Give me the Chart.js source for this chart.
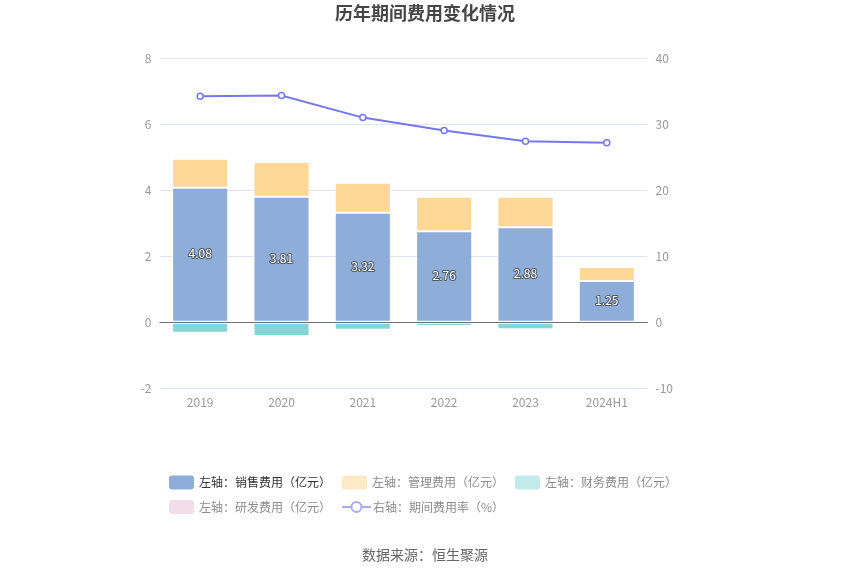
<!DOCTYPE html>
<html>
<head>
<meta charset="utf-8">
<script src="https://cdn.jsdelivr.net/npm/chart.js@4.4.1/dist/chart.umd.min.js"></script>
<style>
    html, body { margin: 0; padding: 0; background: #fff; }
    #wrap { width: 850px; height: 575px; position: relative; }
</style>
</head>
<body>
<div id="wrap"><canvas id="myChart"></canvas></div>
<script>
let nam = ['2019', '2020', '2021', '2022', '2023', '2024H1'];
let xiaoShou = [4.08, 3.81, 3.32, 2.76, 2.88, 1.25];
let guanLi = [0.88, 1.05, 0.91, 1.05, 0.93, 0.43];
let caiWu = [-0.32, -0.42, -0.23, -0.11, -0.21, 0];
let yanFa = [0, 0, 0, 0, 0, 0];
let feiYongLv = [34.3, 34.4, 31.05, 29.1, 27.45, 27.25];

let tickTrai = [-2, 0, 2, 4, 6, 8];
let tickPhai = [-10, 0, 10, 20, 30, 40];

let tenSeries = [
    '左轴：销售费用（亿元）',
    '左轴：管理费用（亿元）',
    '左轴：财务费用（亿元）',
    '左轴：研发费用（亿元）',
    '右轴：期间费用率（%）',
];

Chart.defaults.font.family = '"Microsoft YaHei", "Noto Sans CJK SC", "Noto Sans", sans-serif';
Chart.defaults.color = '#999';

// legend tu ve, hang 1 can giua, hang 2 bat dau cung vi tri
let legendPlugin = {
    id: 'legendTuVe',
    afterDraw(chart) {
        let ctx = chart.ctx;
        let ds = chart.data.datasets;
        let swW = 25, swH = 14, gap = 5, itemGap = 11;
        ctx.save();
        ctx.font = '12px ' + Chart.defaults.font.family;
        ctx.textBaseline = 'middle';
        ctx.textAlign = 'left';
        let rows = [[0, 1, 2], [3, 4]];
        let rowY = [482.5, 507];
        let w1 = 0;
        rows[0].forEach(function (i, k) {
            w1 += swW + gap + ctx.measureText(ds[i].label).width + (k > 0 ? itemGap : 0);
        });
        let x0 = (chart.width - w1) / 2 - 2;
        rows.forEach(function (row, r) {
            let x = x0;
            let y = rowY[r];
            row.forEach(function (i) {
                let d = ds[i];
                if (d.type === 'line') {
                    ctx.strokeStyle = d.legendColor;
                    ctx.lineWidth = 2;
                    ctx.beginPath();
                    ctx.moveTo(x, y);
                    ctx.lineTo(x + swW + 4, y);
                    ctx.stroke();
                    ctx.fillStyle = '#fff';
                    ctx.beginPath();
                    ctx.arc(x + (swW + 4) / 2, y, 5, 0, Math.PI * 2);
                    ctx.fill();
                    ctx.stroke();
                    x += swW + 4 + 2;
                } else {
                    ctx.fillStyle = d.legendColor;
                    ctx.beginPath();
                    ctx.roundRect(x, y - swH / 2, swW, swH, 3);
                    ctx.fill();
                    x += swW + gap;
                }
                ctx.fillStyle = d.legendText;
                ctx.fillText(d.label, x, y);
                x += ctx.measureText(d.label).width + itemGap;
            });
        });
        ctx.restore();
    },
};

// nhan gia tri o giua cot ban hang + duong 0 ve de len cot
let nhanPlugin = {
    id: 'nhanCot',
    afterDatasetsDraw(chart) {
        let ctx = chart.ctx;
        let area = chart.chartArea;
        let y0 = Math.round(chart.scales.y.getPixelForValue(0)) + 0.5;
        ctx.save();
        ctx.strokeStyle = '#6e7079';
        ctx.lineWidth = 1;
        ctx.beginPath();
        ctx.moveTo(area.left, y0);
        ctx.lineTo(area.right, y0);
        ctx.stroke();

        let meta = chart.getDatasetMeta(0);
        ctx.font = '12px ' + Chart.defaults.font.family;
        ctx.textAlign = 'center';
        ctx.textBaseline = 'middle';
        ctx.lineJoin = 'round';
        meta.data.forEach(function (bar, i) {
            let y = (bar.y + bar.base) / 2 - 1;
            let txt = xiaoShou[i].toFixed(2);
            ctx.strokeStyle = 'rgba(70,70,70,0.8)';
            ctx.lineWidth = 2;
            ctx.strokeText(txt, bar.x, y);
            ctx.fillStyle = '#fff';
            ctx.fillText(txt, bar.x, y);
        });
        ctx.restore();
    },
};

let ctx = document.getElementById('myChart').getContext('2d');
window.myChart = new Chart(ctx, {
    type: 'bar',
    data: {
        labels: nam,
        datasets: [
            {
                label: tenSeries[0],
                data: xiaoShou,
                backgroundColor: '#8eadd9',
                borderColor: 'rgba(255,255,255,0.45)',
                borderWidth: 1,
                legendColor: '#8eadd9',
                legendText: '#333',
                stack: 'a',
                order: 2,
            },
            {
                label: tenSeries[1],
                data: guanLi,
                backgroundColor: '#ffd897',
                borderColor: 'rgba(255,255,255,0.45)',
                borderWidth: 1,
                legendColor: '#ffe9c7',
                legendText: '#8c8c8c',
                stack: 'a',
                order: 2,
            },
            {
                label: tenSeries[2],
                data: caiWu,
                backgroundColor: '#86d6d8',
                borderColor: 'rgba(255,255,255,0.45)',
                borderWidth: 1,
                legendColor: '#c2eaeb',
                legendText: '#8c8c8c',
                stack: 'a',
                order: 2,
            },
            {
                label: tenSeries[3],
                data: yanFa,
                backgroundColor: '#f0d3e8',
                borderWidth: 0,
                legendColor: '#f3dcec',
                legendText: '#8c8c8c',
                stack: 'a',
                order: 2,
            },
            {
                type: 'line',
                label: tenSeries[4],
                data: feiYongLv,
                yAxisID: 'y1',
                borderColor: '#7676f0',
                borderWidth: 2,
                pointRadius: 3,
                pointBorderWidth: 1.5,
                pointBackgroundColor: '#fff',
                pointBorderColor: '#7676f0',
                tension: 0,
                legendColor: '#aaaaf6',
                legendText: '#8c8c8c',
                order: 1,
            },
        ],
    },
    options: {
        responsive: true,
        maintainAspectRatio: false,
        animation: false,
        layout: { padding: 0 },
        datasets: {
            bar: { categoryPercentage: 1, barPercentage: 0.69, borderSkipped: false },
        },
        plugins: {
            legend: { display: false },
            tooltip: { enabled: false },
            title: {
                display: true,
                text: '历年期间费用变化情况',
                color: '#464646',
                font: { size: 18, weight: 'bold' },
                padding: { top: 2, bottom: 35 },
            },
            subtitle: {
                display: true,
                position: 'bottom',
                text: '数据来源：恒生聚源',
                color: '#666',
                font: { size: 14 },
                padding: { top: 10, bottom: 12 },
            },
        },
        scales: {
            x: {
                stacked: true,
                grid: { display: false, drawTicks: false },
                border: { display: false },
                ticks: { color: '#999', font: { size: 12 }, padding: 7 },
                afterFit: function (scale) {
                    scale.height = 148;
                },
            },
            y: {
                stacked: true,
                position: 'left',
                min: tickTrai[0],
                max: tickTrai[tickTrai.length - 1],
                ticks: {
                    stepSize: tickTrai[1] - tickTrai[0],
                    color: '#999',
                    font: { size: 12 },
                    padding: 8,
                },
                grid: {
                    drawTicks: false,
                    color: function (c) {
                        return c.tick && c.tick.value === 0 ? '#6e7079' : '#e0e6f1';
                    },
                },
                border: { display: false },
                afterFit: function (scale) {
                    scale.width = 159.5;
                },
            },
            y1: {
                position: 'right',
                min: tickPhai[0],
                max: tickPhai[tickPhai.length - 1],
                ticks: {
                    stepSize: tickPhai[1] - tickPhai[0],
                    color: '#999',
                    font: { size: 12 },
                    padding: 8,
                },
                grid: { display: false, drawTicks: false },
                border: { display: false },
                afterFit: function (scale) {
                    scale.width = 202.5;
                },
            },
        },
    },
    plugins: [nhanPlugin, legendPlugin],
});
</script>
</body>
</html>
